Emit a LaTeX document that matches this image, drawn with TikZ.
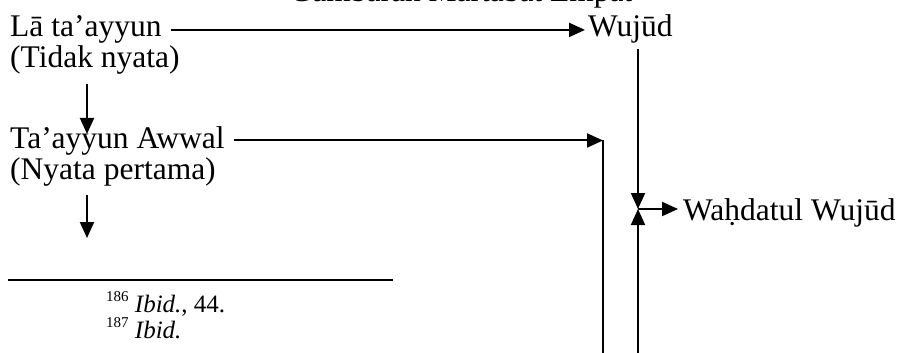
\documentclass[tikz,border=0pt]{standalone}
\usepackage{fontspec}
\setmainfont{Liberation Serif}
\usetikzlibrary{arrows.meta}

\newcommand{\fnmark}[1]{\raisebox{0.45em}{\fontsize{15}{15}\selectfont #1}}

\begin{document}
\begin{tikzpicture}[x=1pt,y=-1pt,
  lbl/.style={inner sep=0pt, anchor=base west, font=\fontsize{31.5}{36}\selectfont},
  note/.style={inner sep=0pt, anchor=north west, align=left, font=\fontsize{25}{21}\selectfont},
  link/.style={line width=2pt},
  tip/.style={-{Triangle[length=16pt,width=14pt]}}
]
\useasboundingbox (0,0) rectangle (905,353);
\clip (0,0) rectangle (905,353);

% caption line, mostly above the page
\node[lbl, anchor=base] (cap) at (461,2) {Gambaran Martabat Empat};

% stages
\node[lbl] (la)  at (10,37)  {Lā ta’ayyun};
\node[lbl] (lan) at (10,68)  {(Tidak nyata)};
\node[lbl] (ta)  at (10,148) {Ta’ayyun Awwal};
\node[lbl] (tan) at (10,179) {(Nyata pertama)};
\node[lbl] (wu)  at (588,37) {Wujūd};
\node[lbl] (wa)  at (683,220) {Waḥdatul Wujūd};

% junction and the lines running off the bottom
\coordinate (j)  at (638,209);
\coordinate (b1) at (638,353);
\coordinate (b2) at (603,353);
\coordinate (d)  at (87,238);

% connectors
\draw[link,tip] ([xshift=9pt]la.east) -- ([xshift=-3pt]la.east -| wu.west);
\draw[link,tip] ([yshift=-5pt]wu.south -| j) -- (j);
\draw[link,tip] (b1) -- (j);
\draw[link,tip] (j) -- ([xshift=-5pt]j -| wa.west);
\draw[link,tip] ([xshift=9pt]ta.east) -- (ta.east -| b2);
\draw[link] (ta.east -| b2) -- (b2);
\draw[link,tip] ([xshift=77pt,yshift=-9pt]lan.south west) -- ([xshift=77pt,yshift=-8pt]ta.north west);
\draw[link,tip] ([xshift=77pt,yshift=-9pt]tan.south west) -- (d);

% footnote rule and notes
\draw[line width=1.5pt] (8,280) -- (393,280);
\node[note] (notes) at (106,291)
  {\fnmark{186} \textit{Ibid.}, 44.\\ \fnmark{187} \textit{Ibid.}};
\end{tikzpicture}
\end{document}
